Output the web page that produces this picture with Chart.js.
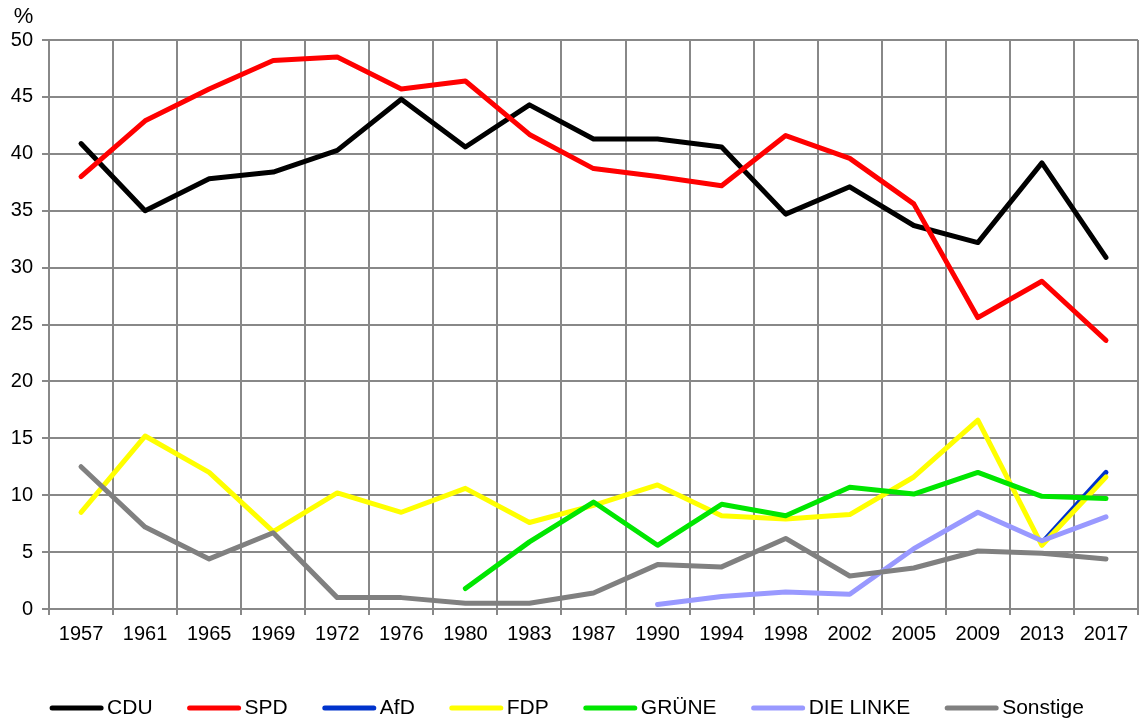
<!DOCTYPE html>
<html>
<head>
<meta charset="utf-8">
<script src="https://cdn.jsdelivr.net/npm/chart.js@4/dist/chart.umd.min.js"></script>
<style>
  html, body { margin: 0; padding: 0; background: #fff; }
  #c { display: block; }
</style>
</head>
<body>
<canvas id="c" width="1142" height="722"></canvas>
<script>
const years = ["1957","1961","1965","1969","1972","1976","1980","1983","1987","1990","1994","1998","2002","2005","2009","2013","2017"];
const yTicks = [0,5,10,15,20,25,30,35,40,45,50];

const cdu      = [40.9, 35.0, 37.8, 38.4, 40.3, 44.8, 40.6, 44.3, 41.3, 41.3, 40.6, 34.7, 37.1, 33.7, 32.2, 39.2, 30.9];
const spd      = [38.0, 42.9, 45.7, 48.2, 48.5, 45.7, 46.4, 41.7, 38.7, 38.0, 37.2, 41.6, 39.6, 35.6, 25.6, 28.8, 23.6];
const afd      = [null, null, null, null, null, null, null, null, null, null, null, null, null, null, null, 5.8, 12.0];
const fdp      = [8.5, 15.2, 12.0, 6.8, 10.2, 8.5, 10.6, 7.6, 9.1, 10.9, 8.2, 7.9, 8.3, 11.6, 16.6, 5.6, 11.6];
const gruene   = [null, null, null, null, null, null, 1.8, 5.9, 9.4, 5.6, 9.2, 8.2, 10.7, 10.1, 12.0, 9.9, 9.7];
const linke    = [null, null, null, null, null, null, null, null, null, 0.4, 1.1, 1.5, 1.3, 5.3, 8.5, 6.0, 8.1];
const sonstige = [12.5, 7.2, 4.4, 6.7, 1.0, 1.0, 0.5, 0.5, 1.4, 3.9, 3.7, 6.2, 2.9, 3.6, 5.1, 4.9, 4.4];

const seriesNames  = ["CDU", "SPD", "AfD", "FDP", "GRÜNE", "DIE LINKE", "Sonstige"];
const seriesData   = [cdu, spd, afd, fdp, gruene, linke, sonstige];
const seriesColors = ["#000000", "#ff0000", "#0033cc", "#ffff00", "#00e600", "#9999ff", "#808080"];

const FONT = "'Liberation Sans', Arial, sans-serif";

const datasets = seriesNames.map((n, i) => ({
  label: n,
  data: seriesData[i],
  borderColor: seriesColors[i],
  backgroundColor: seriesColors[i],
  borderWidth: 5,
  pointRadius: 0,
  pointHoverRadius: 0,
  tension: 0,
  fill: false,
  spanGaps: false,
  borderCapStyle: 'round',
  borderJoinStyle: 'round',
  order: -i
}));

const extras = {
  id: 'extras',
  afterDraw(chart) {
    const ctx = chart.ctx;
    ctx.save();
    // "%" label
    ctx.fillStyle = '#000';
    ctx.font = "22px " + FONT;
    ctx.textAlign = 'center';
    ctx.textBaseline = 'middle';
    ctx.fillText('%', 23.5, 17);

    // legend
    ctx.font = "21px " + FONT;
    ctx.textAlign = 'left';
    ctx.textBaseline = 'middle';
    const lineW = 53, gapT = 4, gapItem = 35, yL = 708;
    const widths = seriesNames.map(n => lineW + gapT + ctx.measureText(n).width);
    const total = widths.reduce((a, b) => a + b, 0) + gapItem * (widths.length - 1);
    let x = 567 - total / 2;
    seriesNames.forEach((n, i) => {
      ctx.strokeStyle = seriesColors[i];
      ctx.lineWidth = 5;
      ctx.lineCap = 'round';
      ctx.beginPath();
      ctx.moveTo(x + 2, yL);
      ctx.lineTo(x + lineW - 2, yL);
      ctx.stroke();
      ctx.fillStyle = '#000';
      ctx.fillText(n, x + lineW + gapT, yL);
      x += widths[i] + gapItem;
    });
    ctx.restore();
  }
};

new Chart(document.getElementById('c'), {
  type: 'line',
  data: { labels: years, datasets: datasets },
  options: {
    responsive: false,
    animation: false,
    events: [],
    layout: { padding: { left: 0, top: 40, right: 4, bottom: 73 } },
    plugins: {
      legend: { display: false },
      tooltip: { enabled: false },
      title: { display: false }
    },
    scales: {
      x: {
        offset: true,
        grid: { offset: true, color: '#888888', lineWidth: 2, tickLength: 6, drawTicks: true },
        border: { color: '#888888', width: 2 },
        ticks: { color: '#000', font: { family: FONT, size: 20 }, padding: 7, maxRotation: 0, autoSkip: false },
        afterFit(s) { s.height = 40; }
      },
      y: {
        min: 0,
        max: 50,
        afterBuildTicks(s) { s.ticks = yTicks.map(v => ({ value: v })); },
        grid: { color: '#888888', lineWidth: 2, tickLength: 7, drawTicks: true },
        border: { color: '#888888', width: 2 },
        ticks: { color: '#000', font: { family: FONT, size: 20 }, padding: 9 },
        afterFit(s) { s.width = 49; }
      }
    }
  },
  plugins: [extras]
});
</script>
</body>
</html>
